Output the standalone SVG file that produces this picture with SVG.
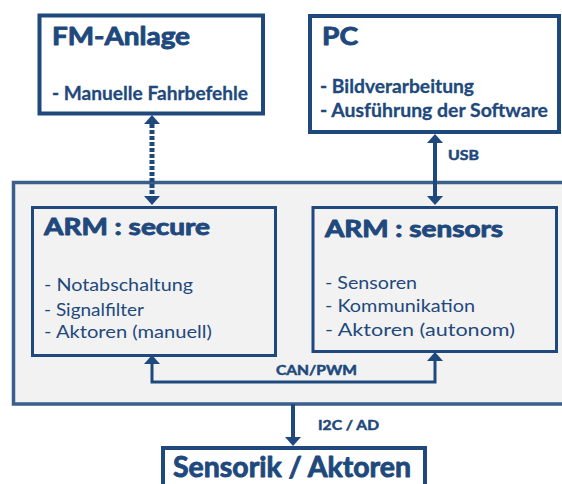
<svg xmlns="http://www.w3.org/2000/svg" width="562" height="484" viewBox="0 0 562 484">
<style>
.box{fill:#ffffff;stroke:#1f497d;stroke-width:4}
.inner{fill:#f2f2f2;stroke:#1f497d;stroke-width:3}
.cont{fill:#f2f2f2;stroke:#3a5f8b;stroke-width:3.5}
text{font-family:Lato,"Open Sans","DejaVu Sans",sans-serif;fill:#1f497d}
.t{font-weight:bold;stroke:#1f497d;stroke-width:0.9;stroke-linejoin:round}
.li{font-weight:bold;font-size:19px;stroke:#1f497d;stroke-width:0.3}
.lr{font-size:18px}
.lab{font-weight:bold;font-size:13px;stroke:#1f497d;stroke-width:0.5;stroke-linejoin:round}
.con{fill:none;stroke:#1f497d}
</style>
<defs>
<marker id="ah" markerUnits="userSpaceOnUse" markerWidth="10" markerHeight="16" refX="0" refY="8" orient="auto-start-reverse" overflow="visible">
<path d="M0,0 L9,8 L0,16 z" fill="#1f497d"/>
</marker>
</defs>
<g id="container">
<rect class="cont" x="13.5" y="182.5" width="560" height="221.5"/>
</g>
<g id="fm-anlage">
<rect class="box" x="39.5" y="15.5" width="223.5" height="98"/>
<text class="t" x="52" y="45" font-size="25" textLength="138" lengthAdjust="spacingAndGlyphs">FM-Anlage</text>
<text class="li" x="52" y="100" textLength="196" lengthAdjust="spacingAndGlyphs">- Manuelle Fahrbefehle</text>
</g>
<g id="pc">
<rect class="box" x="310" y="16" width="249" height="116"/>
<text class="t" x="322" y="45" font-size="25" textLength="36" lengthAdjust="spacingAndGlyphs">PC</text>
<text class="li" x="320" y="93" textLength="154" lengthAdjust="spacingAndGlyphs">- Bildverarbeitung</text>
<text class="li" x="320" y="117" textLength="228" lengthAdjust="spacingAndGlyphs">- Ausführung der Software</text>
</g>
<g id="arm-secure">
<rect class="inner" x="32.5" y="207.5" width="243" height="148"/>
<text class="t" x="44" y="235" font-size="22" textLength="166" lengthAdjust="spacingAndGlyphs">ARM : secure</text>
<text class="lr" x="44" y="291" textLength="149" lengthAdjust="spacingAndGlyphs">- Notabschaltung</text>
<text class="lr" x="44" y="316" textLength="100" lengthAdjust="spacingAndGlyphs">- Signalfilter</text>
<text class="lr" x="44" y="338" textLength="168" lengthAdjust="spacingAndGlyphs">- Aktoren (manuell)</text>
</g>
<g id="arm-sensors">
<rect class="inner" x="313" y="207.5" width="243.5" height="144"/>
<text class="t" x="325" y="237" font-size="22" textLength="178" lengthAdjust="spacingAndGlyphs">ARM : sensors</text>
<text class="lr" x="325" y="289" textLength="92" lengthAdjust="spacingAndGlyphs">- Sensoren</text>
<text class="lr" x="325" y="312" textLength="150" lengthAdjust="spacingAndGlyphs">- Kommunikation</text>
<text class="lr" x="325" y="336" textLength="190" lengthAdjust="spacingAndGlyphs">- Aktoren (autonom)</text>
</g>
<g id="sensorik">
<rect class="box" x="163" y="448" width="262" height="60"/>
<text class="t" x="173" y="477" font-size="28" textLength="238" lengthAdjust="spacingAndGlyphs">Sensorik / Aktoren</text>
</g>
<g id="connectors">
<path class="con" d="M152,124 V196" stroke-width="5" stroke-dasharray="4 2" marker-start="url(#ah)" marker-end="url(#ah)"/>
<path class="con" d="M435,143 V196" stroke-width="4" marker-start="url(#ah)" marker-end="url(#ah)"/>
<path class="con" d="M152,364 V382 H435 V361" stroke-width="3" marker-start="url(#ah)" marker-end="url(#ah)"/>
<path class="con" d="M293,404 V437" stroke-width="4" marker-end="url(#ah)"/>
<text class="lab" x="448" y="160" textLength="31" lengthAdjust="spacingAndGlyphs">USB</text>
<text class="lab" x="276" y="375" textLength="81" lengthAdjust="spacingAndGlyphs">CAN/PWM</text>
<text class="lab" x="318" y="430" textLength="61" lengthAdjust="spacingAndGlyphs">I2C / AD</text>
</g>
</svg>
